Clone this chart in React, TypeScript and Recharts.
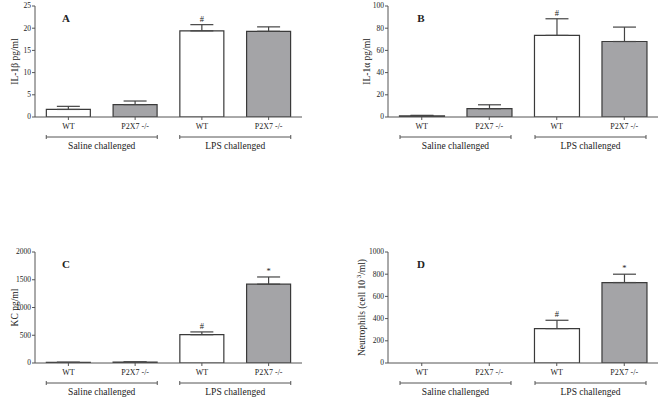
import React from 'react';
import { BarChart, Bar, XAxis, YAxis, ErrorBar, LabelList, Cell } from 'recharts';

const categories = ['WT', 'P2X7 -/-', 'WT', 'P2X7 -/-'];
const groups = ['Saline challenged', 'Saline challenged', 'LPS challenged', 'LPS challenged'];
const barFills = ['#ffffff', '#a4a4a7', '#ffffff', '#a4a4a7'];

const il1bMean = [1.7, 2.8, 19.4, 19.3];
const il1bErr = [0.7, 0.8, 1.4, 1.0];
const il1bMarks = ['', '', '#', ''];
const il1bTicks = [0, 5, 10, 15, 20, 25];

const il1aMean = [1.0, 7.5, 73.5, 68];
const il1aErr = [0.5, 3.5, 15, 13];
const il1aMarks = ['', '', '#', ''];
const il1aTicks = [0, 20, 40, 60, 80, 100];

const kcMean = [10, 15, 510, 1420];
const kcErr = [4, 5, 50, 130];
const kcMarks = ['', '', '#', '*'];
const kcTicks = [0, 500, 1000, 1500, 2000];

const neutMean = [0, 0, 310, 725];
const neutErr = [0, 0, 75, 75];
const neutMarks = ['', '', '#', '*'];
const neutTicks = [0, 200, 400, 600, 800, 1000];

const FONT = "'Liberation Serif', 'Times New Roman', serif";
const AXIS = '#555';
const TEXT = '#222';

function build(mean: number[], err: number[], marks: string[]) {
  return categories.map((c, i) => ({
    cat: c,
    group: groups[i],
    mean: mean[i],
    err: err[i],
    errRange: [0, err[i]],
    mark: marks[i],
  }));
}

const CatTick = (props: any) => {
  const { x, y, payload } = props;
  return (
    <text x={x} y={y + 7} textAnchor="middle" style={{ fontFamily: FONT, fontSize: 8, fill: TEXT }}>
      {payload.value}
    </text>
  );
};

const GroupTick = (props: any) => {
  const { x, y, payload } = props;
  const half = 55.5;
  const by = y + 6;
  return (
    <g>
      <line x1={x - half} x2={x + half} y1={by} y2={by} stroke={AXIS} strokeWidth={1} />
      <line x1={x - half} x2={x - half} y1={by - 2} y2={by + 2} stroke={AXIS} strokeWidth={1} />
      <line x1={x + half} x2={x + half} y1={by - 2} y2={by + 2} stroke={AXIS} strokeWidth={1} />
      <text x={x} y={y + 18} textAnchor="middle" style={{ fontFamily: FONT, fontSize: 9.5, fill: TEXT }}>
        {payload.value}
      </text>
    </g>
  );
};

const ValTick = (props: any) => {
  const { x, y, payload } = props;
  return (
    <text x={x} y={y} dy="0.33em" textAnchor="end" style={{ fontFamily: FONT, fontSize: 7.5, fill: TEXT }}>
      {payload.value}
    </text>
  );
};

type PanelProps = {
  left: number;
  top: number;
  width: number;
  height: number;
  mTop: number;
  mRight: number;
  mBottom: number;
  yWidth: number;
  labelX: number;
  data: any[];
  ticks: number[];
  yLabel: React.ReactNode;
  letter: string;
  letterX: number;
  letterY: number;
};

function Panel(p: PanelProps) {
  const max = p.ticks[p.ticks.length - 1];
  return (
    <div style={{ position: 'absolute', left: p.left, top: p.top, width: p.width, height: p.height }}>
      <BarChart
        width={p.width}
        height={p.height}
        data={p.data}
        margin={{ top: p.mTop, right: p.mRight, bottom: p.mBottom, left: 0 }}
        barCategoryGap="17%"
      >
        <XAxis
          dataKey="cat"
          xAxisId={0}
          height={14}
          tickSize={3}
          tickMargin={2}
          interval={0}
          stroke={AXIS}
          tick={<CatTick />}
        />
        <XAxis
          dataKey="group"
          xAxisId="g"
          allowDuplicatedCategory={false}
          height={22}
          tickSize={0}
          tickMargin={0}
          axisLine={false}
          tickLine={false}
          interval={0}
          tick={<GroupTick />}
        />
        <YAxis
          width={p.yWidth}
          domain={[0, max]}
          ticks={p.ticks}
          tickSize={3}
          tickMargin={1}
          stroke={AXIS}
          interval={0}
          allowDataOverflow
          tick={<ValTick />}
          label={{
            content: (lp: any) => {
              const vb = lp.viewBox || {};
              const cx = p.labelX;
              const cy = vb.y + vb.height / 2;
              return (
                <text
                  x={cx}
                  y={cy}
                  transform={`rotate(-90 ${cx} ${cy})`}
                  textAnchor="middle"
                  dominantBaseline="central"
                  style={{ fontFamily: FONT, fontSize: 9.5, fill: TEXT }}
                >
                  {p.yLabel}
                </text>
              );
            },
          }}
        />
        <Bar
          dataKey="mean"
          stackId="s"
          xAxisId={0}
          stroke="#3a3a3a"
          strokeWidth={1.2}
          isAnimationActive={false}
        >
          {p.data.map((d, i) => (
            <Cell key={i} fill={barFills[i]} />
          ))}
          <ErrorBar dataKey="errRange" width={11.5} stroke="#444" strokeWidth={1.2} direction="y" />
        </Bar>
        <Bar dataKey="err" stackId="s" xAxisId={0} fill="transparent" isAnimationActive={false}>
          <LabelList
            dataKey="mark"
            position="top"
            offset={3}
            style={{ fontFamily: FONT, fontSize: 8.5, fill: TEXT }}
          />
        </Bar>
      </BarChart>
      <div
        style={{
          position: 'absolute',
          left: p.letterX - 10,
          top: p.letterY - 7,
          width: 20,
          textAlign: 'center',
          fontFamily: FONT,
          fontSize: 11,
          fontWeight: 'bold',
          color: TEXT,
          lineHeight: '14px',
        }}
      >
        {p.letter}
      </div>
    </div>
  );
}

export default function App() {
  return (
    <div style={{ position: 'fixed', left: 0, top: 0, width: 661, height: 400, background: '#fff', overflow: 'hidden' }}>
      <Panel
        left={0}
        top={0}
        width={330}
        height={200}
        mTop={6}
        mRight={28}
        mBottom={47}
        yWidth={35}
        labelX={15}
        data={build(il1bMean, il1bErr, il1bMarks)}
        ticks={il1bTicks}
        yLabel="IL-1β pg/ml"
        letter="A"
        letterX={66}
        letterY={18}
      />
      <Panel
        left={330}
        top={0}
        width={331}
        height={200}
        mTop={6}
        mRight={3}
        mBottom={47}
        yWidth={58}
        labelX={37}
        data={build(il1aMean, il1aErr, il1aMarks)}
        ticks={il1aTicks}
        yLabel="IL-1α pg/ml"
        letter="B"
        letterX={91}
        letterY={18}
      />
      <Panel
        left={0}
        top={200}
        width={330}
        height={200}
        mTop={52}
        mRight={28}
        mBottom={1}
        yWidth={35}
        labelX={15}
        data={build(kcMean, kcErr, kcMarks)}
        ticks={kcTicks}
        yLabel="KC pg/ml"
        letter="C"
        letterX={66}
        letterY={64}
      />
      <Panel
        left={330}
        top={200}
        width={331}
        height={200}
        mTop={52}
        mRight={3}
        mBottom={1}
        yWidth={58}
        labelX={32}
        data={build(neutMean, neutErr, neutMarks)}
        ticks={neutTicks}
        yLabel={
          <>
            Neutrophils (cell 10
            <tspan dy={-3} fontSize={7}> 3</tspan>
            <tspan dy={3}>/ml)</tspan>
          </>
        }
        letter="D"
        letterX={91}
        letterY={64}
      />
    </div>
  );
}
